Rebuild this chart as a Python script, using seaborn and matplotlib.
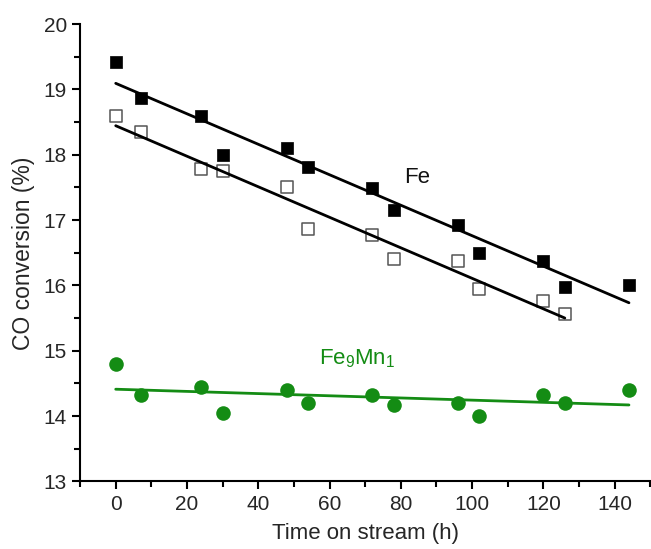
import matplotlib
matplotlib.use("Agg")
import matplotlib.pyplot as plt
import seaborn as sns
import numpy as np
import pandas as pd
from matplotlib.ticker import MultipleLocator

time_h = [0, 7, 24, 30, 48, 54, 72, 78, 96, 102, 120, 126, 144]
fe_filled = [19.42, 18.87, 18.59, 17.99, 18.11, 17.81, 17.49, 17.15, 16.93, 16.50, 16.37, 15.97, 16.01]
time_open = [0, 7, 24, 30, 48, 54, 72, 78, 96, 102, 120, 126]
fe_open = [18.59, 18.35, 17.78, 17.75, 17.51, 16.86, 16.77, 16.40, 16.37, 15.95, 15.76, 15.57]
fe9mn1 = [14.80, 14.33, 14.44, 14.05, 14.40, 14.20, 14.33, 14.17, 14.20, 14.00, 14.33, 14.20, 14.40]

sns.set_style("ticks")
plt.rcParams['font.family'] = ['Liberation Sans', 'DejaVu Sans']
plt.rcParams['mathtext.fontset'] = 'custom'
plt.rcParams['mathtext.rm'] = 'Liberation Sans'
plt.rcParams['mathtext.it'] = 'Liberation Sans'

green = '#148c14'
fig, ax = plt.subplots(figsize=(6.51, 5.49), dpi=100)
fig.subplots_adjust(left=0.123, right=0.999, top=0.956, bottom=0.123)

df1 = pd.DataFrame({'t': time_h, 'v': fe_filled})
df2 = pd.DataFrame({'t': time_open, 'v': fe_open})
df3 = pd.DataFrame({'t': time_h, 'v': fe9mn1})

sns.regplot(data=df1, x='t', y='v', ax=ax, ci=None, truncate=True,
            marker='s', scatter_kws=dict(s=75, color='black', edgecolor='black', linewidths=0.5, alpha=1),
            line_kws=dict(color='black', lw=2))
sns.regplot(data=df2, x='t', y='v', ax=ax, ci=None, truncate=True,
            marker='s', scatter_kws=dict(s=75, facecolors='white', edgecolors='#555555', linewidths=1.1, alpha=1),
            line_kws=dict(color='black', lw=2))
sns.regplot(data=df3, x='t', y='v', ax=ax, ci=None, truncate=True,
            marker='o', scatter_kws=dict(s=110, color=green, alpha=1, linewidths=0),
            line_kws=dict(color=green, lw=2))

ax.text(81, 17.66, 'Fe', fontsize=16, ha='left', va='center', color='#111111')
ax.text(57, 14.88, r'Fe$_\mathregular{9}$Mn$_\mathregular{1}$', fontsize=16, ha='left', va='center', color=green)

ax.set_xlim(-10, 150)
ax.set_ylim(13, 20)
ax.xaxis.set_major_locator(MultipleLocator(20))
ax.xaxis.set_minor_locator(MultipleLocator(10))
ax.yaxis.set_major_locator(MultipleLocator(1))
ax.yaxis.set_minor_locator(MultipleLocator(0.5))
ax.set_xticks(range(0, 141, 20))
ax.tick_params(which='major', direction='out', length=6, width=1.5, labelsize=15, color='black')
ax.tick_params(which='minor', direction='out', length=4, width=1.5, color='black')
ax.set_xlabel('Time on stream (h)', fontsize=16, labelpad=7)
ax.set_ylabel('CO conversion (%)', fontsize=16.5, labelpad=6)
sns.despine(ax=ax)
for s in ['left', 'bottom']:
    ax.spines[s].set_linewidth(1.5)
    ax.spines[s].set_color('black')

fig.savefig('out.png', dpi=100)
